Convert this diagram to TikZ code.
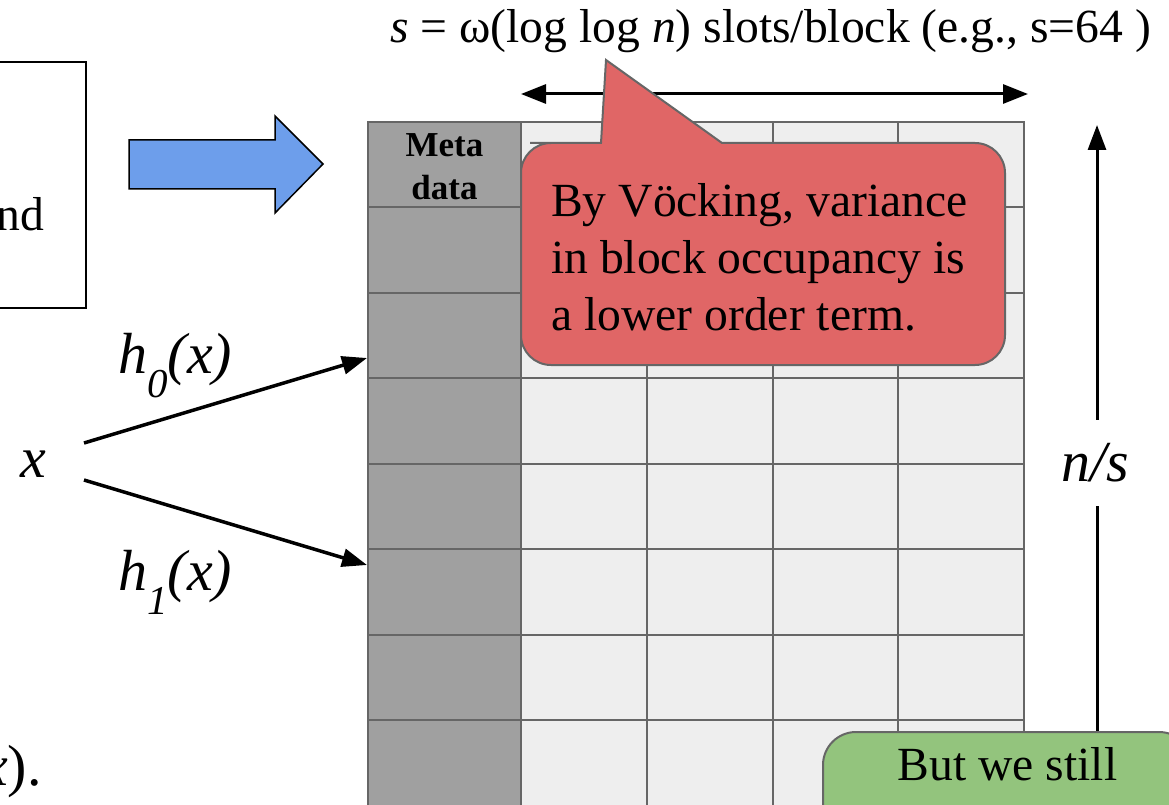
\documentclass[tikz,border=0pt]{standalone}
\usepackage{fontspec}
\setmainfont{Liberation Serif}
\usetikzlibrary{arrows.meta}
\definecolor{gridline}{HTML}{666666}
\definecolor{metafill}{HTML}{A0A0A0}
\definecolor{slotfill}{HTML}{EEEEEE}
\definecolor{calloutred}{HTML}{E06666}
\definecolor{arrowblue}{HTML}{6D9EEB}
\definecolor{notegreen}{HTML}{93C47D}
\newcommand{\bigtext}{\fontsize{47.6}{57}\selectfont}
\newcommand{\mathtext}{\fontsize{58}{60}\selectfont\itshape}
\newcommand{\subtext}{\fontsize{41}{42}\selectfont\itshape}
\newcommand{\metatext}{\fontsize{35}{43}\selectfont\bfseries}
\begin{document}
\begin{tikzpicture}[x=1pt,y=-1pt,
  cellmeta/.style={draw=gridline, fill=metafill, line width=2pt},
  cellslot/.style={draw=gridline, fill=slotfill, line width=2pt},
  blk/.style={-{Triangle[length=25pt,width=18pt]}, line width=3pt},
  dblk/.style={{Triangle[length=25pt,width=19pt]}-{Triangle[length=25pt,width=19pt]}, line width=3pt},
  lbl/.style={inner sep=0pt},
]
\useasboundingbox (0,0) rectangle (1169,805);
\fill[white] (0,0) rectangle (1169,805);

% left partial box
\draw[line width=2pt] (-20,62) rectangle (86,308);
\node[lbl, font=\bigtext, anchor=base east] (andtxt) at (44,230) {and};

% blue block arrow
\draw[fill=arrowblue, line width=1.5pt, line join=miter]
  (129,140) -- (275,140) -- (275,116) -- (323,164) -- (275,213) -- (275,189) -- (129,189) -- cycle;

% grid
\foreach \r in {0,...,8} {
  \pgfmathsetmacro\ya{122+\r*85.45}
  \pgfmathsetmacro\yb{122+(\r+1)*85.45}
  \path[cellmeta] (368,\ya) rectangle (521,\yb);
  \foreach \c in {0,...,3} {
    \pgfmathsetmacro\xa{521+\c*125.75}
    \pgfmathsetmacro\xb{521+(\c+1)*125.75}
    \path[cellslot] (\xa,\ya) rectangle (\xb,\yb);
  }
}
\node[lbl, font=\metatext, align=center, anchor=base] (meta) at (444.5,200) {Meta\\data};

% top label and double arrow
\node[lbl, font=\bigtext, anchor=base west] (slots) at (390,43)
  {\textit{s} = ω(log log \textit{n}) slots/block (e.g., s=64 )};
\coordinate (dl) at (521,94);
\coordinate (dr) at (1028,94);
\draw[dblk] (dl) -- (dr);

% callout
\draw[fill=calloutred, draw=gridline, line width=2pt]
  (580,143) -- (601,143) -- (606,60) -- (722,143) -- (760,143)
  [rounded corners=30pt] -- (1005,143) -- (1005,365) -- (521,365) -- (521,143) -- (560,143)
  [sharp corners] -- cycle;
\node[lbl, font=\bigtext, align=left, anchor=base west] (vtext) at (551,330)
  {By Vöcking, variance\\in block occupancy is\\a lower order term.};

% x and hash arrows
\node[lbl, font=\mathtext, anchor=base] (xin) at (33,477) {x};
\coordinate (s0) at (84,443);
\coordinate (s1) at (84,480);
\coordinate (t0) at (367,358);
\coordinate (t1) at (367,565);
\draw[blk, line width=3.5pt] (s0) -- (t0);
\draw[blk, line width=3.5pt] (s1) -- (t1);
\node[lbl, font=\mathtext, anchor=base west] (h0) at (118,373)
  {h\raisebox{-24pt}{\subtext 0}(x)};
\node[lbl, font=\mathtext, anchor=base west] (h1) at (118,590)
  {h\raisebox{-24pt}{\subtext 1}(x)};

% n/s arrow
\coordinate (vb) at (1097,805);
\coordinate (vt) at (1097,125);
\draw[blk] (vb) -- (vt);
\node[fill=white, font=\mathtext, inner sep=0pt, minimum width=80pt, minimum height=86pt] (ns) at (1095,463) {n/s};

% bottom-left fragment
\node[lbl, font=\mathtext, anchor=base east] (xfrag) at (42,785) {x\upshape).};

% green note
\draw[fill=notegreen, draw=gridline, line width=2pt, rounded corners=33pt] (823,732) rectangle (1192,900);
\node[lbl, font=\bigtext, anchor=base] (still) at (1007.5,780) {But we still};
\end{tikzpicture}
\end{document}
